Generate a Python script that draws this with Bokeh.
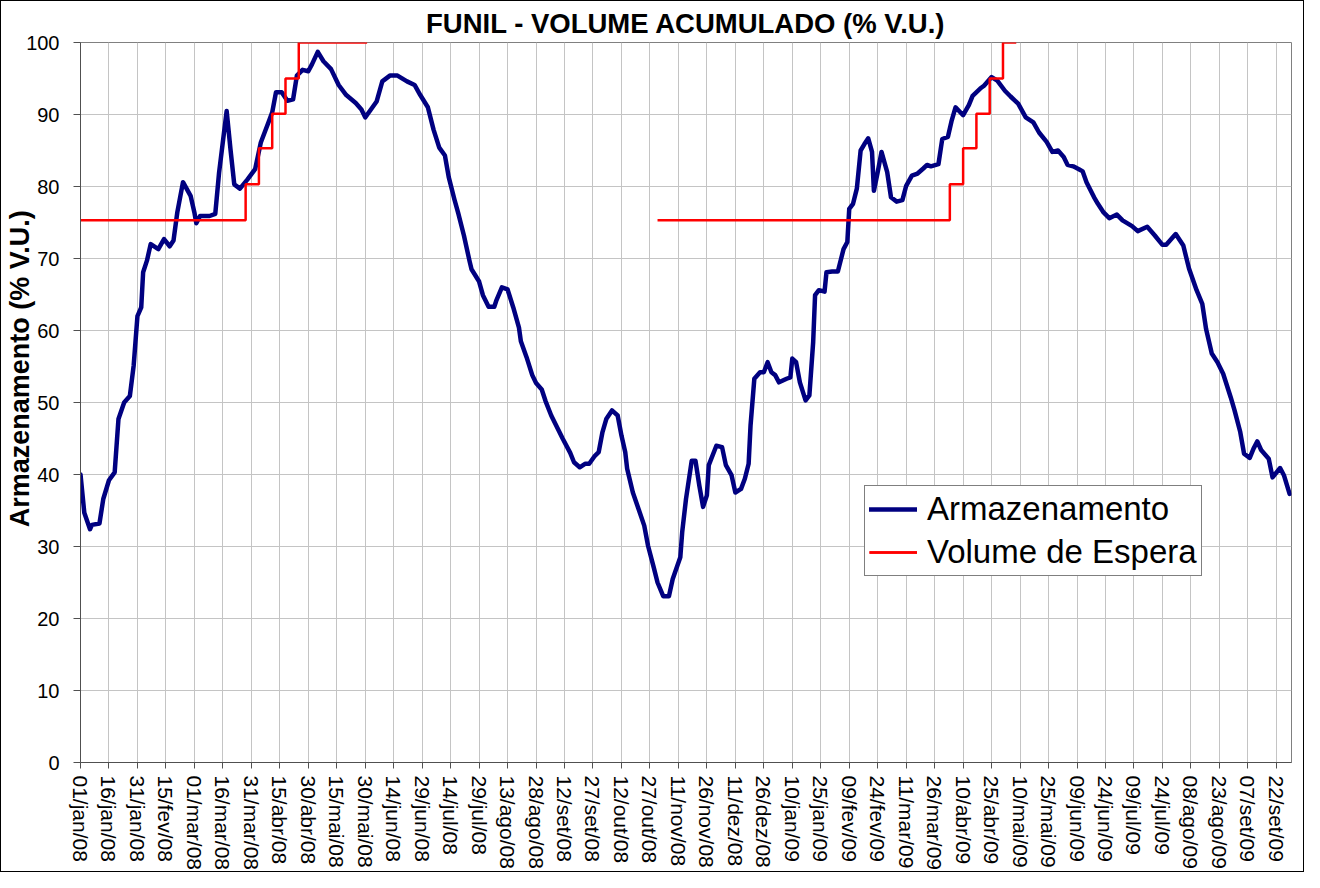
from bokeh.plotting import figure
from bokeh.models import Range1d, FixedTicker, Legend, LegendItem
from bokeh.embed import file_html
from bokeh.resources import INLINE

# ---- data ----
# day offsets since 01/jan/2008 and storage (% V.U.)
arm_dias = [0, 2, 5, 6, 10, 12, 15, 18, 20, 23, 26, 28, 30, 32, 33, 35, 37, 41, 44, 47,
            49, 51, 54, 58, 60, 61, 63, 68, 71, 73, 77, 79, 81, 84, 88, 92, 95, 99, 101, 103,
            106, 109, 112, 114, 117, 120, 122, 125, 128, 132, 136, 140, 145, 148, 150, 153, 156, 159, 163, 167,
            172, 176, 179, 183, 186, 189, 192, 194, 197, 199, 202, 205, 206, 210, 212, 215, 218, 219, 222, 225,
            228, 231, 232, 235, 238, 240, 243, 245, 248, 251, 254, 258, 260, 263, 266, 268, 271, 273, 275, 277,
            280, 283, 285, 287, 288, 291, 294, 297, 299, 302, 304, 307, 310, 312, 316, 317, 319, 322, 324, 326,
            328, 330, 331, 335, 338, 340, 343, 345, 348, 350, 352, 353, 355, 358, 360, 362, 364, 366, 368, 372,
            374, 375, 377, 379, 382, 384, 386, 387, 389, 392, 393, 396, 399, 402, 404, 405, 407, 409, 411, 413,
            415, 417, 418, 420, 422, 425, 427, 430, 433, 435, 438, 441, 444, 446, 448, 452, 454, 457, 459, 461,
            465, 468, 470, 474, 476, 480, 483, 487, 490, 494, 498, 502, 505, 509, 512, 515, 518, 520, 523, 526,
            528, 530, 534, 536, 539, 542, 546, 549, 554, 557, 562, 566, 570, 572, 575, 577, 581, 584, 588, 591,
            593, 596, 599, 602, 606, 608, 611, 613, 616, 618, 620, 622, 626, 628, 632, 634, 637]
arm_vals = [40.0, 34.7, 32.4, 33.0, 33.2, 36.6, 39.2, 40.3, 47.7, 50.0, 50.9, 55.1, 62.0, 63.2, 68.1, 69.7, 72.0, 71.3, 72.7, 71.7,
            72.5, 76.4, 80.6, 78.7, 76.4, 74.9, 75.9, 75.9, 76.2, 81.9, 90.5, 85.2, 80.3, 79.7, 81.0, 82.4, 86.1, 88.9, 90.3, 93.1,
            93.1, 91.9, 92.1, 95.4, 96.2, 96.0, 97.0, 98.7, 97.4, 96.3, 94.1, 92.7, 91.6, 90.7, 89.6, 90.7, 91.8, 94.6, 95.4, 95.4,
            94.6, 94.1, 92.7, 91.0, 87.9, 85.4, 84.3, 81.3, 78.2, 76.3, 73.2, 69.6, 68.5, 66.8, 64.9, 63.3, 63.3, 64.1, 66.0, 65.7,
            63.2, 60.4, 58.5, 56.3, 53.8, 52.7, 51.8, 50.2, 48.2, 46.6, 45.0, 43.0, 41.7, 41.0, 41.5, 41.5, 42.6, 43.1, 45.9, 47.7,
            48.9, 48.2, 45.4, 43.1, 40.8, 37.5, 35.2, 32.9, 30.1, 27.1, 25.0, 23.1, 23.1, 25.5, 28.5, 32.0, 36.6, 41.9, 41.9, 38.5,
            35.5, 37.1, 41.3, 44.0, 43.8, 41.3, 39.9, 37.5, 38.0, 39.4, 41.5, 46.8, 53.3, 54.2, 54.2, 55.6, 54.2, 53.8, 52.8, 53.3,
            53.5, 56.1, 55.6, 52.8, 50.3, 51.0, 58.4, 64.9, 65.6, 65.4, 68.1, 68.2, 68.2, 71.3, 72.3, 76.9, 77.6, 79.7, 85.0, 85.9,
            86.7, 84.8, 79.4, 82.0, 84.8, 82.0, 78.5, 77.9, 78.1, 80.1, 81.5, 81.8, 82.5, 83.0, 82.8, 83.1, 86.6, 86.9, 89.2, 91.0,
            89.9, 91.3, 92.6, 93.6, 94.0, 95.2, 94.7, 93.3, 92.5, 91.5, 89.6, 88.9, 87.5, 86.2, 84.8, 85.0, 84.1, 83.0, 82.8, 82.4,
            82.1, 80.6, 78.5, 77.6, 76.4, 75.6, 76.1, 75.3, 74.5, 73.8, 74.4, 73.2, 71.9, 71.9, 72.8, 73.4, 71.8, 68.6, 65.6, 63.7,
            60.2, 56.8, 55.6, 54.0, 50.7, 48.9, 45.9, 42.9, 42.3, 43.6, 44.6, 43.4, 42.2, 39.6, 40.9, 39.9, 37.3]

# flood-control waiting volume (step series), two periods
espera_dias_1 = [0, 87, 94, 101, 108, 115, 151]
espera_vals_1 = [75.3, 80.3, 85.3, 90.1, 95.0, 100.0, 100.0]
espera_dias_2 = [304, 458, 465, 472, 479, 486, 493]
espera_vals_2 = [75.3, 80.3, 85.3, 90.1, 95.0, 100.0, 100.0]

rotulos_x = ["01/jan/08", "16/jan/08", "31/jan/08", "15/fev/08", "01/mar/08", "16/mar/08", "31/mar/08",
             "15/abr/08", "30/abr/08", "15/mai/08", "30/mai/08", "14/jun/08", "29/jun/08", "14/jul/08",
             "29/jul/08", "13/ago/08", "28/ago/08", "12/set/08", "27/set/08", "12/out/08", "27/out/08",
             "11/nov/08", "26/nov/08", "11/dez/08", "26/dez/08", "10/jan/09", "25/jan/09", "09/fev/09",
             "24/fev/09", "11/mar/09", "26/mar/09", "10/abr/09", "25/abr/09", "10/mai/09", "25/mai/09",
             "09/jun/09", "24/jun/09", "09/jul/09", "24/jul/09", "08/ago/09", "23/ago/09", "07/set/09",
             "22/set/09"]
passo_ticks = 15
ticks_y = [0, 10, 20, 30, 40, 50, 60, 70, 80, 90, 100]

FONT = "Liberation Sans"

p = figure(width=1304, height=872, output_backend="svg", toolbar_location=None,
           x_range=Range1d(0, 638), y_range=Range1d(0, 100),
           min_border_left=79, min_border_right=14, min_border_top=41, min_border_bottom=109,
           title="FUNIL - VOLUME ACUMULADO (% V.U.)")
p.styles = {"border": "1px solid #000000"}

p.title.align = "center"
p.title.text_font = FONT
p.title.text_font_size = "27.5px"
p.title.text_font_style = "bold"
p.title.text_color = "black"
p.title.offset = 0
p.title.standoff = 7

p.outline_line_color = "#808080"
p.outline_line_width = 1
p.background_fill_color = "white"
p.border_fill_color = "white"

xt = [i * passo_ticks for i in range(len(rotulos_x))]
p.xaxis.ticker = FixedTicker(ticks=xt)
p.xaxis.major_label_overrides = {t: lab for t, lab in zip(xt, rotulos_x)}
p.xaxis.major_label_orientation = -1.5708
p.xaxis.major_label_text_font = FONT
p.xaxis.major_label_text_font_size = "21px"
p.xaxis.major_label_text_color = "black"
p.xaxis.major_label_standoff = 7
p.xaxis.minor_tick_line_color = None
p.xaxis.major_tick_out = 6
p.xaxis.major_tick_in = 0
p.xaxis.axis_line_color = "#505050"
p.xaxis.major_tick_line_color = "#505050"

p.yaxis.ticker = FixedTicker(ticks=ticks_y)
p.yaxis.major_label_text_font = FONT
p.yaxis.major_label_text_font_size = "20px"
p.yaxis.major_label_text_color = "black"
p.yaxis.minor_tick_line_color = None
p.yaxis.major_tick_out = 7
p.yaxis.major_tick_in = 0
p.yaxis.major_label_standoff = 14
p.yaxis.axis_line_color = "#505050"
p.yaxis.major_tick_line_color = "#505050"
p.yaxis.axis_label = "\u00a0" * 9 + "Armazenamento (% V.U.)"
p.yaxis.axis_label_text_font = FONT
p.yaxis.axis_label_text_font_size = "27px"
p.yaxis.axis_label_text_font_style = "bold"
p.yaxis.axis_label_text_color = "black"
p.yaxis.axis_label_standoff = -12

p.xgrid.grid_line_color = "#c4c4c4"
p.ygrid.grid_line_color = "#c4c4c4"
p.xgrid.grid_line_width = 1
p.ygrid.grid_line_width = 1

r_arm = p.line(arm_dias, arm_vals, line_color="#000080", line_width=4.5, line_join="round", line_cap="round")
r_esp1 = p.step(espera_dias_1, espera_vals_1, mode="after", line_color="#ff0000", line_width=2.5)
r_esp2 = p.step(espera_dias_2, espera_vals_2, mode="after", line_color="#ff0000", line_width=2.5)

legend = Legend(items=[LegendItem(label="Armazenamento", renderers=[r_arm]),
                       LegendItem(label="Volume de Espera", renderers=[r_esp1, r_esp2])],
                location=(784, 186))
legend.label_text_font = FONT
legend.label_text_font_size = "33px"
legend.label_text_color = "black"
legend.glyph_width = 48
legend.glyph_height = 36
legend.label_height = 36
legend.spacing = 5
legend.padding = 4
legend.margin = 0
legend.border_line_color = "black"
legend.border_line_width = 1
legend.background_fill_alpha = 1
legend.label_standoff = 10
p.add_layout(legend, "center")

open("out.html", "w").write(file_html(p, INLINE))
